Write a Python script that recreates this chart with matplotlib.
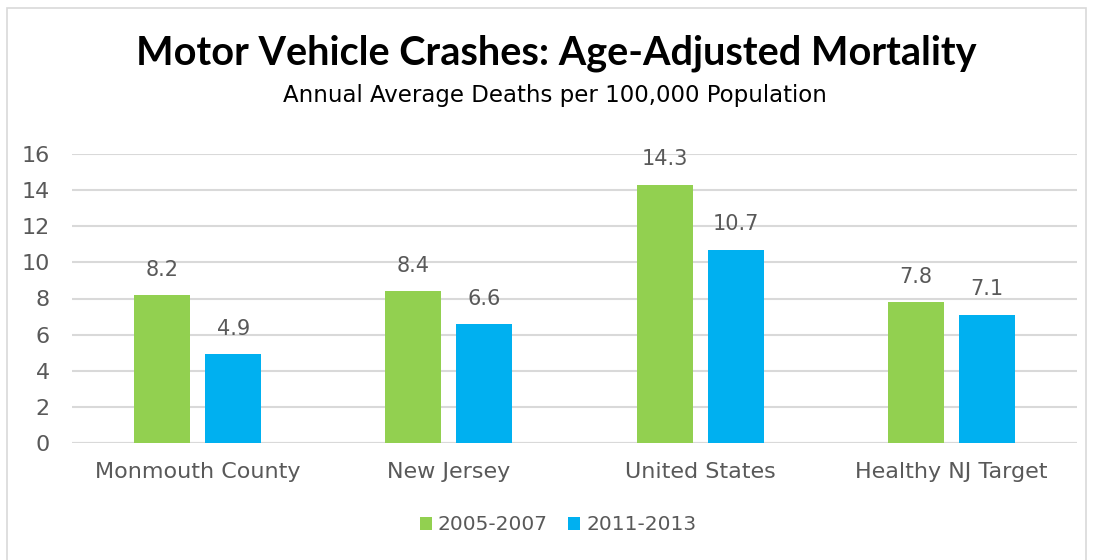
import numpy as np
import matplotlib.pyplot as plt
from matplotlib.patches import Rectangle

categories = ["Monmouth County", "New Jersey", "United States", "Healthy NJ Target"]
series_names = ["2005-2007", "2011-2013"]
vals_2005 = [8.2, 8.4, 14.3, 7.8]
vals_2011 = [4.9, 6.6, 10.7, 7.1]
yticks = [0, 2, 4, 6, 8, 10, 12, 14, 16]

GREEN = "#92D050"
BLUE = "#00B0F0"
TEXT = "#595959"
FONT = "DejaVu Sans"
TITLE_FONT = "Lato"

fig = plt.figure(figsize=(10.94, 5.6), dpi=100)
fig.patches.append(Rectangle((7 / 1094, -0.01), (1086 - 7) / 1094, (560 - 8) / 560 + 0.01,
                             transform=fig.transFigure, fill=False, edgecolor="#D9D9D9", lw=1.2))

ax = fig.add_axes([72 / 1094, (560 - 443) / 560, (1077 - 72) / 1094, (443 - 154) / 560])

x = np.arange(len(categories))
w = 0.223
off = w / 2 + 0.03
b1 = ax.bar(x - off, vals_2005, w, color=GREEN, label=series_names[0], zorder=3)
b2 = ax.bar(x + off, vals_2011, w, color=BLUE, label=series_names[1], zorder=3)

for bars in (b1, b2):
    for r in bars:
        h = r.get_height()
        ax.annotate(f"{h:.1f}", (r.get_x() + r.get_width() / 2, h), xytext=(0, 11),
                    textcoords="offset points", ha="center", va="bottom",
                    fontsize=15, color=TEXT, family=FONT)

ax.set_xlim(-0.5, len(categories) - 0.5)
ax.set_ylim(0, 16)
ax.set_yticks(yticks)
ax.set_xticks(x)
ax.set_xticklabels(categories)
ax.yaxis.grid(True, color="#D9D9D9", lw=1.5, zorder=0)
ax.set_axisbelow(True)
for s in ["top", "right", "left", "bottom"]:
    ax.spines[s].set_visible(False)
ax.tick_params(axis="both", length=0, labelsize=16, labelcolor=TEXT)
ax.tick_params(axis="x", pad=14)
ax.tick_params(axis="y", pad=16)
for lab in ax.get_xticklabels() + ax.get_yticklabels():
    lab.set_family(FONT)
ax.axhline(0, color="#D9D9D9", lw=1.5, zorder=2)

fig.text(0.508, 1 - 53 / 560, "Motor Vehicle Crashes: Age-Adjusted Mortality", ha="center", va="center",
         fontsize=28.5, fontweight="bold", color="black", family=TITLE_FONT)
fig.text(0.507, 1 - 95 / 560, "Annual Average Deaths per 100,000 Population", ha="center", va="center",
         fontsize=16.5, color="black", family=FONT)

fig.legend(handles=[b1, b2], labels=series_names, loc="center", bbox_to_anchor=(0.51, 1 - 525 / 560),
           ncol=2, frameon=False, handlelength=0.6, handleheight=0.6, handletextpad=0.3,
           columnspacing=1.0, prop={"family": FONT, "size": 14.5}, labelcolor=TEXT)

fig.savefig("out.png", dpi=100)
